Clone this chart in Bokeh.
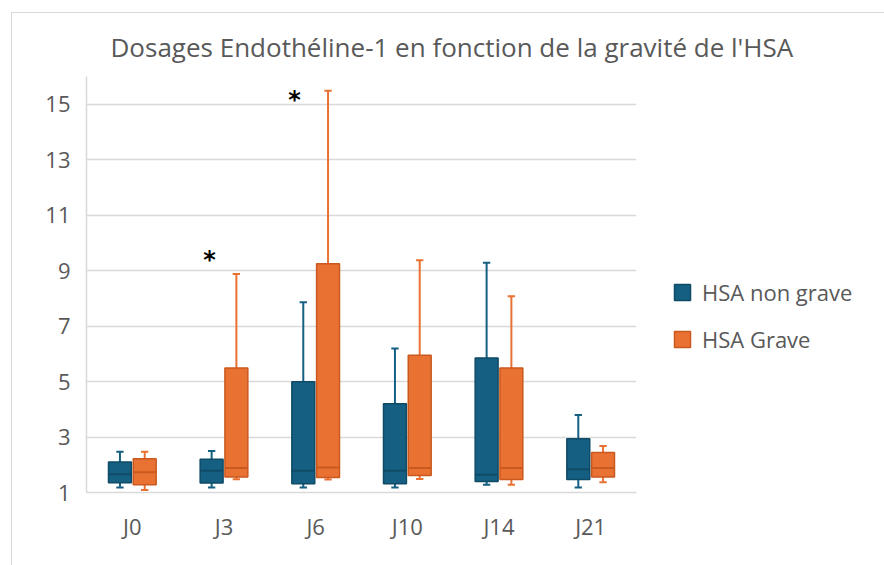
from bokeh.plotting import figure
from bokeh.models import (FactorRange, Range1d, FixedTicker, Label, Legend,
                          LegendItem, ColumnDataSource)
from bokeh.transform import dodge
from bokeh.embed import file_html
from bokeh.resources import INLINE

# ---- data ----
categories = ["J0", "J3", "J6", "J10", "J14", "J21"]

ng_min = [1.18, 1.18, 1.18, 1.18, 1.28, 1.18]
ng_q1 = [1.35, 1.34, 1.32, 1.32, 1.40, 1.47]
ng_med = [1.66, 1.78, 1.78, 1.78, 1.64, 1.84]
ng_q3 = [2.10, 2.20, 4.99, 4.20, 5.85, 2.94]
ng_max = [2.47, 2.50, 7.86, 6.19, 9.28, 3.79]

g_min = [1.09, 1.48, 1.47, 1.49, 1.28, 1.37]
g_q1 = [1.28, 1.56, 1.54, 1.61, 1.47, 1.56]
g_med = [1.73, 1.88, 1.90, 1.88, 1.88, 1.88]
g_q3 = [2.22, 5.49, 9.25, 5.95, 5.49, 2.44]
g_max = [2.47, 8.88, 15.49, 9.37, 8.08, 2.68]

y_ticks = [1, 3, 5, 7, 9, 11, 13, 15]
series_names = ["HSA non grave", "HSA Grave"]
title_text = "Dosages Endothéline-1 en fonction de la gravité de l'HSA"

# significance marks (x in category units, y in value units)
star_x = [1.342, 2.269]
star_y = [9.40, 15.15]

BLUE = "#156082"
BLUE_DARK = "#0f4a66"
ORANGE = "#E97132"
ORANGE_DARK = "#c9591f"
TEXT = "#595959"
GRID = "#d9d9d9"
FONT = "Open Sans"

src = ColumnDataSource(dict(cat=categories,
                            ng_min=ng_min, ng_q1=ng_q1, ng_med=ng_med, ng_q3=ng_q3, ng_max=ng_max,
                            g_min=g_min, g_q1=g_q1, g_med=g_med, g_q3=g_q3, g_max=g_max))

p = figure(x_range=FactorRange(*categories), y_range=Range1d(1, 16),
           width=872, height=552, output_backend="svg", toolbar_location=None,
           min_border_left=74, min_border_right=248, min_border_top=63, min_border_bottom=73)
p.frame_width = 550
p.frame_height = 416
p.styles = {"border-top": "1px solid #d9d9d9", "border-left": "1px solid #d9d9d9",
            "margin-left": "11px", "margin-top": "12px"}
p.outline_line_color = None
p.background_fill_color = "white"
p.border_fill_color = "white"

# title
p.title.text = title_text
p.title.align = "left"
p.title.offset = 24
p.title.standoff = 23
p.title.text_font = FONT
p.title.text_font_size = "26px"
p.title.text_font_style = "normal"
p.title.text_color = TEXT

# axes
p.yaxis.ticker = FixedTicker(ticks=y_ticks)
p.yaxis.axis_line_color = GRID
p.yaxis.axis_line_width = 1.5
p.yaxis.major_tick_line_color = None
p.yaxis.minor_tick_line_color = None
p.yaxis.major_label_text_font = FONT
p.yaxis.major_label_text_font_size = "22px"
p.yaxis.major_label_text_color = TEXT
p.yaxis.major_label_standoff = 10

p.xaxis.axis_line_color = GRID
p.xaxis.axis_line_width = 1.5
p.xaxis.major_tick_line_color = None
p.xaxis.minor_tick_line_color = None
p.xaxis.major_label_text_font = FONT
p.xaxis.major_label_text_font_size = "22px"
p.xaxis.major_label_text_color = TEXT
p.xaxis.major_label_standoff = 12

p.xgrid.grid_line_color = None
p.ygrid.grid_line_color = GRID
p.ygrid.grid_line_width = 1.5
p.ygrid.ticker = FixedTicker(ticks=y_ticks)

OFF = 0.135
BW = 0.25
CAP = 0.04

renderers = []
for off, pre, col, dark in [(-OFF, "ng_", BLUE, BLUE_DARK), (OFF, "g_", ORANGE, ORANGE_DARK)]:
    # whiskers
    p.segment(x0=dodge("cat", off, range=p.x_range), x1=dodge("cat", off, range=p.x_range),
              y0=pre + "q3", y1=pre + "max", source=src, line_color=col, line_width=2)
    p.segment(x0=dodge("cat", off, range=p.x_range), x1=dodge("cat", off, range=p.x_range),
              y0=pre + "q1", y1=pre + "min", source=src, line_color=col, line_width=2)
    # caps
    for end in ("max", "min"):
        p.segment(x0=dodge("cat", off - CAP, range=p.x_range), x1=dodge("cat", off + CAP, range=p.x_range),
                  y0=pre + end, y1=pre + end, source=src, line_color=col, line_width=2)
    # boxes
    r = p.vbar(x=dodge("cat", off, range=p.x_range), width=BW, bottom=pre + "q1", top=pre + "q3",
               source=src, fill_color=col, line_color=dark, line_width=1.5)
    renderers.append(r)
    # medians
    p.segment(x0=dodge("cat", off - BW / 2, range=p.x_range), x1=dodge("cat", off + BW / 2, range=p.x_range),
              y0=pre + "med", y1=pre + "med", source=src, line_color=dark, line_width=2)

legend = Legend(items=[LegendItem(label=series_names[0], renderers=[renderers[0]]),
                       LegendItem(label=series_names[1], renderers=[renderers[1]])],
                location=(36, 138), orientation="vertical")
legend.label_text_font = FONT
legend.label_text_font_size = "22px"
legend.label_text_color = TEXT
legend.glyph_width = 20
legend.glyph_height = 20
legend.label_height = 20
legend.label_standoff = 10
legend.spacing = 17
legend.padding = 0
legend.margin = 0
legend.border_line_color = None
legend.background_fill_alpha = 0
p.add_layout(legend, "right")

# significance stars
for sx, sy in zip(star_x, star_y):
    p.add_layout(Label(x=sx, y=sy, text="*", text_align="center", text_baseline="middle",
                       text_font="DejaVu Sans", text_font_style="bold", text_font_size="24px",
                       text_color="black"))

open("out.html", "w").write(file_html(p, INLINE))
